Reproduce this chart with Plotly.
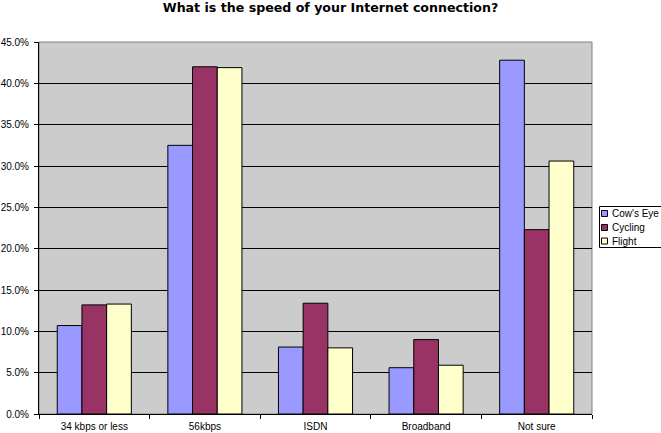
import plotly.graph_objects as go

# Survey data (percent of respondents)
categories = ['34 kbps or less', '56kbps', 'ISDN', 'Broadband', 'Not sure']
cows_eye = [10.7, 32.5, 8.1, 5.6, 42.8]
cycling = [13.2, 42.0, 13.4, 9.0, 22.3]
flight = [13.3, 41.9, 8.0, 5.9, 30.6]

series_names = ["Cow's Eye", 'Cycling', 'Flight']
series_colors = ['#9999FF', '#993366', '#FFFFCC']
series_values = [cows_eye, cycling, flight]

W, H = 661, 433
L, R, T, B = 39, 69, 42, 19
pw, ph = W - L - R, H - T - B


def px_x(x):
    return (x - L) / pw


def px_y(y):
    return (H - B - y) / ph


fig = go.Figure()
for name, vals, color in zip(series_names, series_values, series_colors):
    fig.add_trace(go.Bar(x=categories, y=vals, name=name,
                         marker=dict(color=color, line=dict(color='black', width=1))))

fig.update_layout(
    width=W, height=H,
    margin=dict(l=L, r=R, t=T, b=B, autoexpand=False),
    paper_bgcolor='white',
    plot_bgcolor='#CCCCCC',
    barmode='group',
    bargap=0.33,
    bargroupgap=0,
    font=dict(family='Liberation Sans', size=10, color='black'),
    title=dict(text='<b>What is the speed of your Internet connection?</b>',
               font=dict(family='DejaVu Sans', size=12.6, color='black'),
               x=0.5, xanchor='center', y=0.982, yanchor='middle'),
    showlegend=False,
)

fig.update_yaxes(range=[0, 45], dtick=5, tickformat='.1f', ticksuffix='%',
                 showgrid=True, gridcolor='black', gridwidth=1,
                 showline=True, linecolor='black', linewidth=1,
                 ticks='outside', ticklen=4, tickcolor='black',
                 zeroline=False, automargin=False, ticklabelstandoff=3)
fig.update_xaxes(tickson='boundaries', ticks='outside', ticklen=4, tickcolor='black',
                 showline=True, linecolor='black', linewidth=1,
                 showgrid=False, automargin=False, ticklabelstandoff=3)

# gray border on the top and right of the plot area
fig.add_shape(type='rect', xref='paper', yref='paper', x0=0, y0=0, x1=1, y1=1,
              line=dict(color='#808080', width=1), layer='below')

# legend box drawn by hand so it stays as compact as the original
fig.add_shape(type='rect', xref='paper', yref='paper',
              x0=px_x(599.5), x1=px_x(661.5), y0=px_y(247.5), y1=px_y(206.5),
              line=dict(color='black', width=1), fillcolor='white')
row_y = [213.5, 227.5, 241]
for name, color, ry in zip(series_names, series_colors, row_y):
    fig.add_shape(type='rect', xref='paper', yref='paper',
                  x0=px_x(601.5), x1=px_x(607.5), y0=px_y(ry + 3), y1=px_y(ry - 3),
                  line=dict(color='black', width=1), fillcolor=color)
    fig.add_annotation(text=name, xref='paper', yref='paper',
                       x=px_x(610), y=px_y(ry), xanchor='left', yanchor='middle',
                       showarrow=False, font=dict(size=10))

# drop the default page margin so the chart sits at the window's corner
fig.write_html('out.html', config={'displayModeBar': False},
               post_script="document.body.style.margin='0';")
